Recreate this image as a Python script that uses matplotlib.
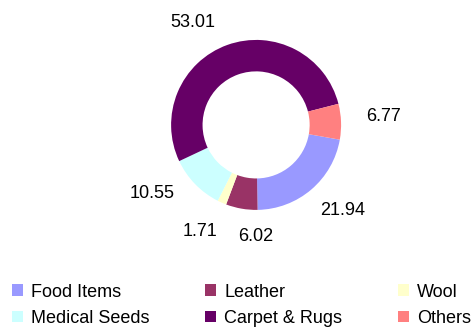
import matplotlib
matplotlib.use('Agg')
import matplotlib.pyplot as plt
from matplotlib.patches import Patch
import numpy as np

plt.rcParams['font.family'] = ['Liberation Sans', 'DejaVu Sans']

categories = ['Food Items', 'Leather', 'Wool', 'Medical Seeds', 'Carpet & Rugs', 'Others']
values = [21.94, 6.02, 1.71, 10.55, 53.01, 6.77]
value_labels = ['21.94', '6.02', '1.71', '10.55', '53.01', '6.77']
colors = ['#9999FF', '#993366', '#FFFFCC', '#CCFFFF', '#660066', '#FF8080']

fig = plt.figure(figsize=(4.74, 3.27), dpi=100)
ax = fig.add_axes([0.361, 0.358, 0.3586, 0.520])

start = -10
wedges, _ = ax.pie(values, colors=colors, startangle=start, counterclock=False,
                   radius=1.0, wedgeprops=dict(width=0.37, edgecolor='none'))
ax.set_xlim(-1, 1)
ax.set_ylim(-1, 1)
ax.set_aspect('equal')

# value labels outside the ring (angle shift and distance per label)
label_shift = [4.8, 9.4, -3.8, -10.9, 12.0, 1.4]
label_dist = [1.44, 1.31, 1.42, 1.46, 1.42, 1.50]
for w, txt, s, d in zip(wedges, value_labels, label_shift, label_dist):
    ang = np.deg2rad((w.theta1 + w.theta2) / 2 + s)
    ax.text(d * np.cos(ang), d * np.sin(ang), txt, ha='center', va='center',
            fontsize=13, color='black')

# legend is filled row-wise in the reference
order = [0, 3, 1, 4, 2, 5]
handles = [Patch(facecolor=colors[i], edgecolor='none') for i in order]
names = [categories[i] for i in order]
fig.legend(handles, names, ncol=3, loc='upper left', bbox_to_anchor=(0.025, 0.133),
           frameon=False, fontsize=13, handlelength=0.6, handleheight=0.6,
           handletextpad=0.45, columnspacing=3.1, labelspacing=0.52,
           borderpad=0, borderaxespad=0)

fig.savefig('out.png', dpi=100)
